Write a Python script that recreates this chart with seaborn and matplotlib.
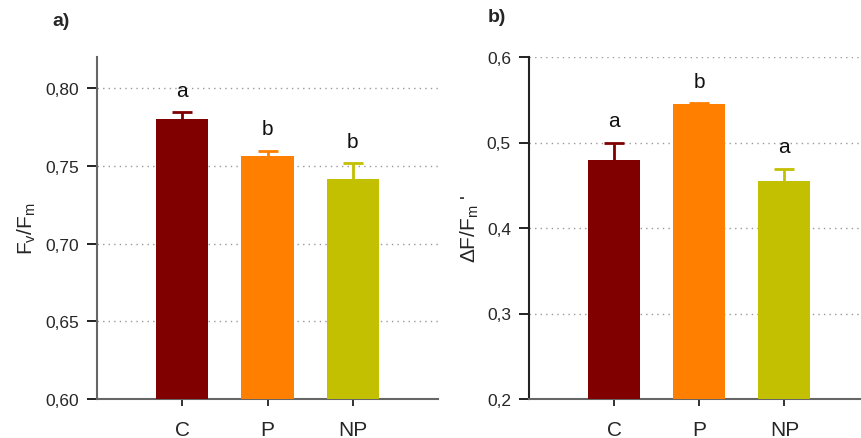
import matplotlib
matplotlib.use("Agg")
import matplotlib.pyplot as plt
import seaborn as sns
import pandas as pd
from matplotlib.ticker import FuncFormatter, FixedLocator

sns.set_theme(style="white")
plt.rcParams['font.family'] = ['Liberation Sans', 'DejaVu Sans']
plt.rcParams['mathtext.fontset'] = 'custom'
plt.rcParams['mathtext.rm'] = 'Liberation Sans'
plt.rcParams['mathtext.it'] = 'Liberation Sans:italic'

categories = ["C", "P", "NP"]
colors = ["#800000", "#FF8000", "#C2C000"]

fvfm_mean = [0.7803, 0.7565, 0.7417]
fvfm_err = [0.0041, 0.0032, 0.0098]
fvfm_letters = ["a", "b", "b"]

phi_mean = [0.479, 0.5445, 0.4555]
phi_err = [0.021, 0.0015, 0.014]
phi_letters = ["a", "b", "a"]

fvfm_ticks = [0.60, 0.65, 0.70, 0.75, 0.80]
phi_ticks = [0.2, 0.3, 0.4, 0.5, 0.6]

fig = plt.figure(figsize=(8.61, 4.39), dpi=100)
W, H = 861, 439
axA = fig.add_axes([97 / W, 1 - 400 / H, (438 - 97) / W, (400 - 58) / H])
axB = fig.add_axes([529 / W, 1 - 400 / H, (861 - 529) / W, (400 - 58) / H])


def draw(ax, means, errs, letters, ticks, ylim, xlim, fmt, ylabel, spinecol, labelpad):
    df = pd.DataFrame({"cat": categories, "val": means})
    sns.barplot(data=df, x="cat", y="val", hue="cat", palette=colors,
                order=categories, hue_order=categories, width=0.61,
                legend=False, ax=ax, saturation=1, errorbar=None, zorder=3,
                edgecolor="none", linewidth=0)
    for i, (m, e, c) in enumerate(zip(means, errs, colors)):
        eb = ax.errorbar([i], [m], yerr=[[0], [e]], fmt="none", ecolor=c,
                         elinewidth=2, capsize=7, capthick=2, zorder=4)
        caps = eb[1]
        if len(caps) > 1:
            caps[0].set_visible(False)
        ax.annotate(letters[i], xy=(i, m + e), xytext=(0, 12),
                    textcoords="offset points", ha="center", va="baseline",
                    fontsize=15, color="#111111")
    ax.set_ylim(*ylim)
    ax.set_xlim(*xlim)
    ax.yaxis.set_major_locator(FixedLocator(ticks))
    ax.yaxis.set_major_formatter(FuncFormatter(fmt))
    ax.grid(axis="y", linestyle=(0, (1, 3)), color="#9a9a9a", linewidth=1, zorder=0)
    ax.set_axisbelow(True)
    for s in ["top", "right"]:
        ax.spines[s].set_visible(False)
    ax.spines["left"].set_color(spinecol)
    ax.spines["bottom"].set_color("#666666")
    ax.spines["left"].set_linewidth(1.5)
    ax.spines["bottom"].set_linewidth(1.5)
    ax.tick_params(axis="y", direction="out", length=7, width=1.3, color="#111111",
                   labelsize=12.5, pad=6, left=True)
    ax.tick_params(axis="x", direction="out", length=5, width=1.3, color="#222222",
                   labelsize=15, pad=10, bottom=True)
    ax.set_xlabel("")
    ax.set_ylabel(ylabel, fontsize=15, labelpad=labelpad)


draw(axA, fvfm_mean, fvfm_err, fvfm_letters, fvfm_ticks, (0.60, 0.82), (-1, 3),
     lambda v, p: f"{v:.2f}".replace(".", ","), r"$\mathregular{F_v/F_m}$", "#666666", 5)
draw(axB, phi_mean, phi_err, phi_letters, phi_ticks, (0.2, 0.6), (-1, 2.9),
     lambda v, p: f"{v:.1f}".replace(".", ","), r"$\mathregular{\Delta F/F_m}$ '", "#222222", 4)

fig.text(52 / W, 1 - 21 / H, "a)", fontsize=14, fontweight="bold", va="center", ha="left")
fig.text(488 / W, 1 - 18 / H, "b)", fontsize=14, fontweight="bold", va="center", ha="left")

fig.savefig("out.png", dpi=100)
